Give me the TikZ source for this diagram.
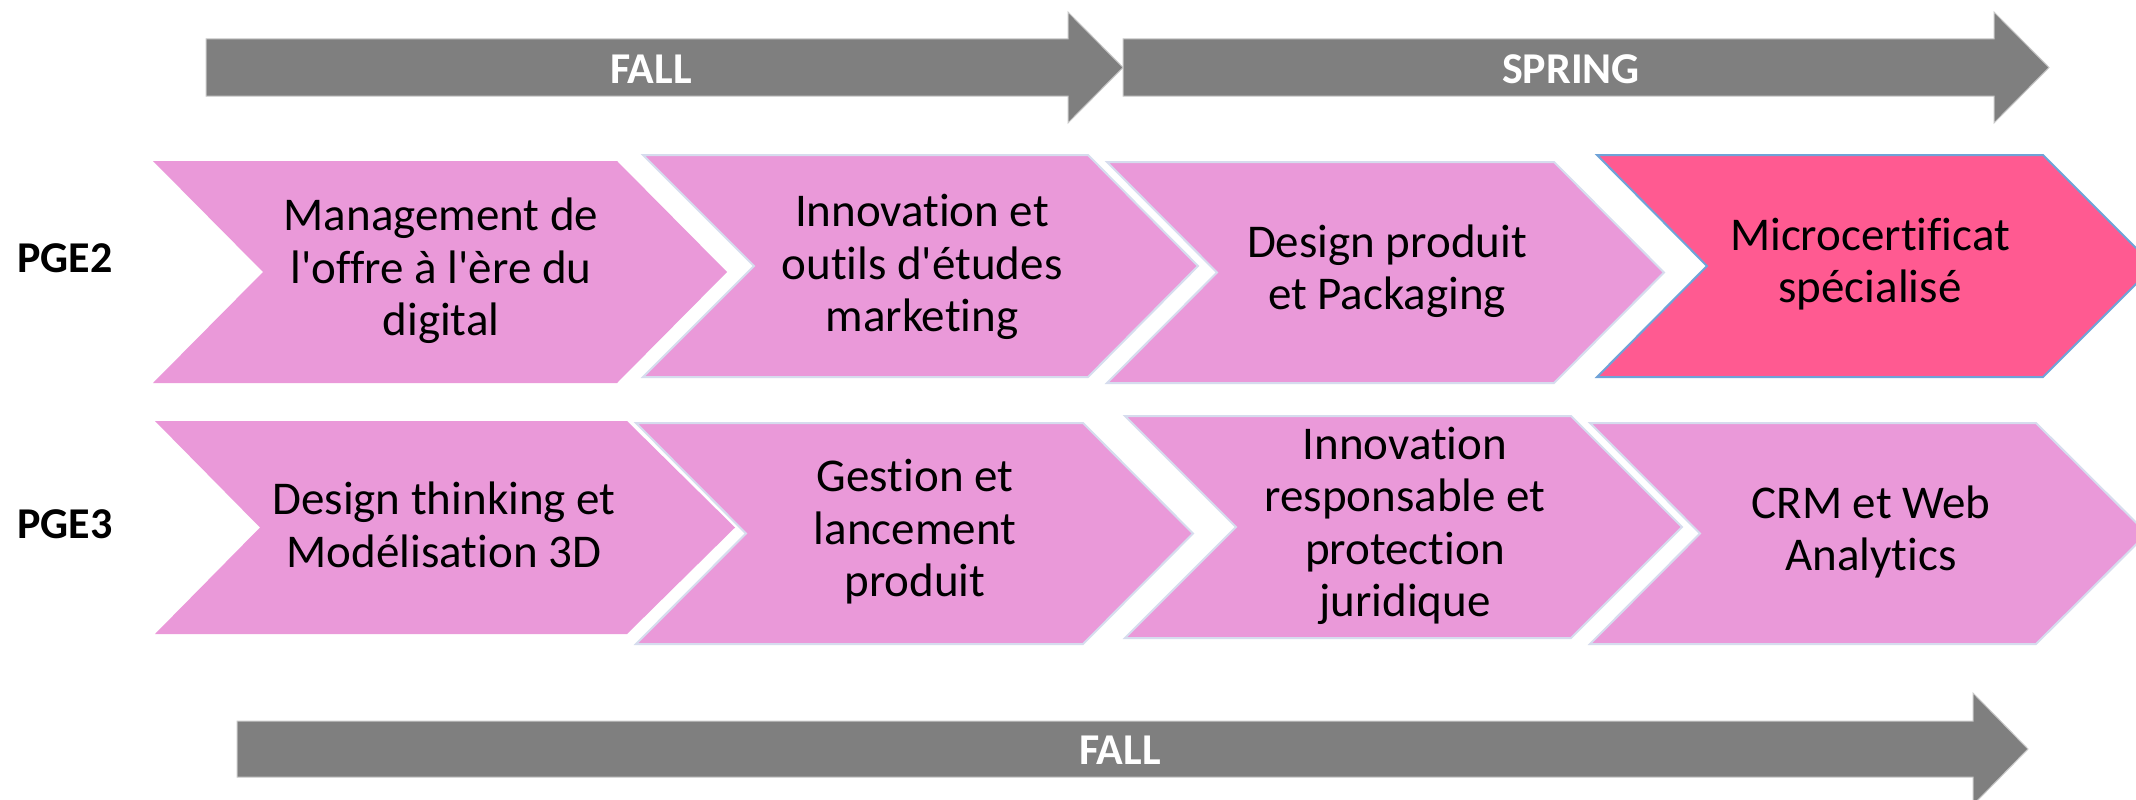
\documentclass[tikz,border=0pt]{standalone}
\usepackage{fontspec}
\setmainfont{Carlito}[Ligatures={NoCommon}]
\definecolor{pinkfill}{RGB}{234,153,217}
\definecolor{pinkline}{RGB}{214,220,238}
\definecolor{hotfill}{RGB}{255,90,145}
\definecolor{hotline}{RGB}{111,163,216}
\definecolor{arrowgray}{RGB}{127,127,127}
\definecolor{arrowline}{RGB}{200,200,200}
\newcommand{\apo}{\textquotesingle}
\tikzset{
  chev/.style={fill=pinkfill, draw=pinkline, line width=2pt, line join=miter},
  chevplain/.style={fill=pinkfill},
  chevhot/.style={fill=hotfill, draw=hotline, line width=2pt, line join=miter},
  bigarrow/.style={fill=arrowgray, draw=arrowline, line width=1pt},
  body/.style={align=center, font=\fontsize{47}{52.5}\selectfont, text=black, inner sep=0pt},
  season/.style={font=\fontsize{44}{52.5}\selectfont\bfseries, text=white, inner sep=0pt},
  rowlabel/.style={font=\fontsize{44}{52.5}\selectfont\bfseries, text=black, inner sep=0pt}
}
\begin{document}
\begin{tikzpicture}[x=1pt, y=-1pt]
\useasboundingbox (0,0) rectangle (2136,800);
\clip (0,0) rectangle (2136,800);
\fill[white] (0,0) rectangle (2136,800);

% season arrows
\draw[bigarrow] (206,39) -- (1068,39) -- (1068,12) -- (1123,67.5) -- (1068,123) -- (1068,96) -- (206,96) -- cycle;
\draw[bigarrow] (1123,39) -- (1994,39) -- (1994,12) -- (2049,67.5) -- (1994,123) -- (1994,96) -- (1123,96) -- cycle;
\draw[bigarrow] (237,721) -- (1973,721) -- (1973,693) -- (2028,749) -- (1973,805) -- (1973,777) -- (237,777) -- cycle;
\node[season] (fall1) at (651,69) {FALL};
\node[season] (spring) at (1571,69) {SPRING};
\node[season] (fall2) at (1120,750) {FALL};

% row labels
\node[rowlabel] (pge2) at (65,258) {PGE2};
\node[rowlabel] (pge3) at (65,524) {PGE3};

% PGE2 row
\fill[chevplain] (153,161) -- (617,161) -- (727,272) -- (617,383) -- (153,383) -- (263,272) -- cycle;
\draw[chev] (643,155) -- (1088,155) -- (1198,266) -- (1088,377) -- (643,377) -- (754,266) -- cycle;
\draw[chev] (1107,162) -- (1554,162) -- (1664,272.5) -- (1554,383) -- (1107,383) -- (1217,272.5) -- cycle;
\draw[chevhot] (1597,155) -- (2043,155) -- (2154,266) -- (2043,377) -- (1597,377) -- (1707,266) -- cycle;

\node[body] (c1) at (441,271) {Management de\\l\apo offre à l\apo ère du\\digital};
\node[body] (c2) at (922,267) {Innovation et\\outils d\apo études\\marketing};
\node[body] (c3) at (1387,271) {Design produit\\et Packaging};
\node[body] (c4) at (1870,264) {Microcertificat\\spécialisé};

% PGE3 row
\fill[chevplain] (155,421) -- (627,421) -- (735,527.5) -- (627,634) -- (155,634) -- (260,527.5) -- cycle;
\draw[chev] (636,423) -- (1083,423) -- (1193,533.5) -- (1083,644) -- (636,644) -- (746,533.5) -- cycle;
\draw[chev] (1125,416) -- (1571,416) -- (1682,527) -- (1571,638) -- (1125,638) -- (1236,527) -- cycle;
\draw[chev] (1590,423) -- (2036,423) -- (2147,533.5) -- (2036,644) -- (1590,644) -- (1700,533.5) -- cycle;

\node[body] (c5) at (444,525) {Design thinking et\\Modélisation 3D};
\node[body] (c6) at (915,532) {Gestion et\\lancement\\produit};
\node[body] (c7) at (1405,526) {Innovation\\responsable et\\protection\\juridique};
\node[body] (c8) at (1871,532) {CRM et Web\\Analytics};
\end{tikzpicture}
\end{document}
